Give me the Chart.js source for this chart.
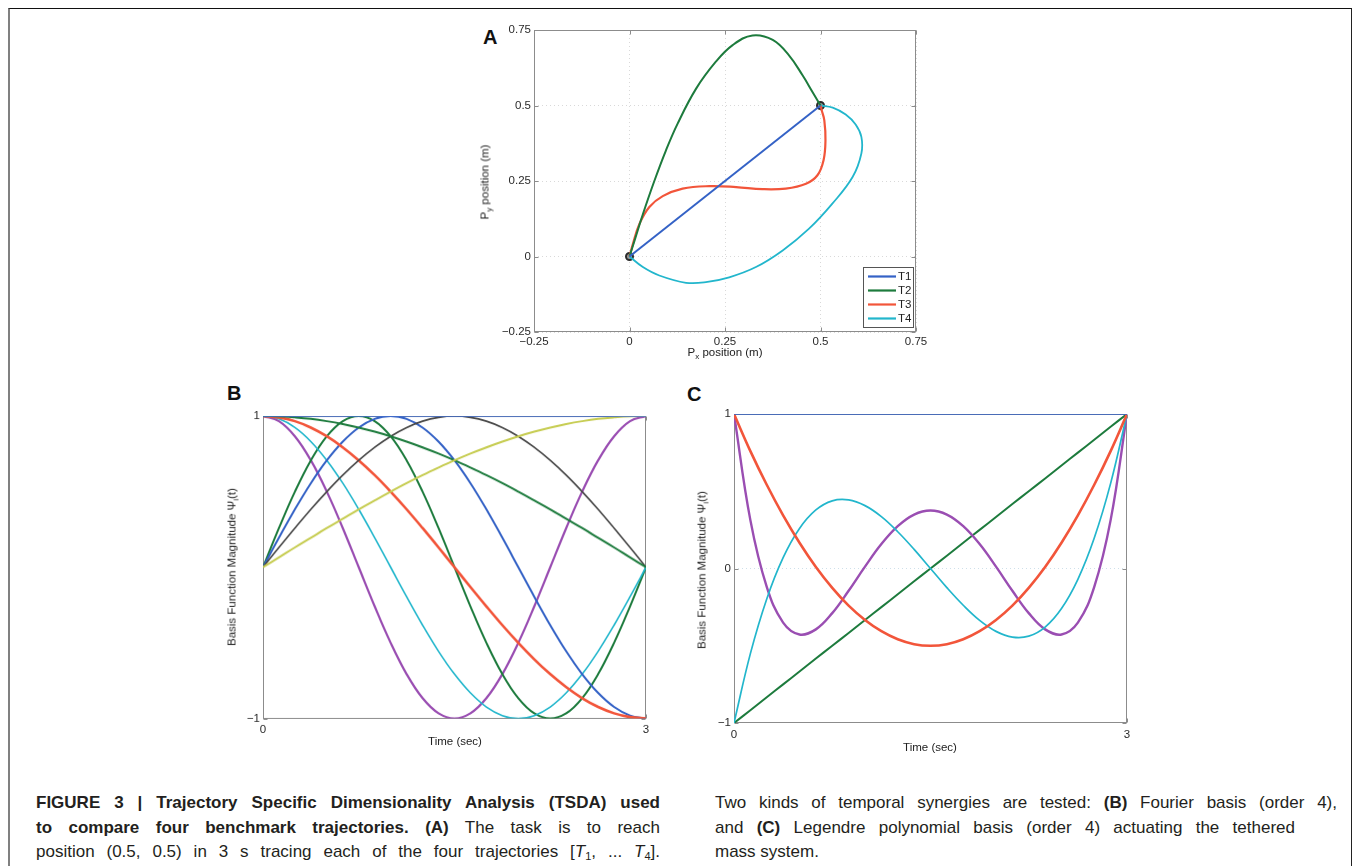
<!DOCTYPE html>
<html><head><meta charset="utf-8">
<script src="https://cdn.jsdelivr.net/npm/chart.js@4.4.0/dist/chart.umd.min.js"></script>
<style>
html,body{margin:0;padding:0;background:#fff;}
body{width:1356px;height:866px;position:relative;overflow:hidden;font-family:"Liberation Sans",Arial,sans-serif;}
.frame{position:absolute;left:8px;top:8px;width:1341px;height:900px;border-top:1.5px solid #111;border-right:1px solid #222;border-left:2px solid #808080;}
.box{position:absolute;}
.lbl{position:absolute;font-weight:bold;font-size:20px;line-height:20px;color:#111;}
.ttl{position:absolute;font-size:11.5px;line-height:13px;color:#222;white-space:nowrap;transform:translate(-50%,-50%);}
.rot{transform:translate(-50%,-50%) rotate(-90deg);}
.ttl sub{font-size:8px;vertical-align:-3px;line-height:0;}
.cap{position:absolute;font-family:"Liberation Sans",Arial,sans-serif;font-size:17px;line-height:24px;color:#231f20;text-align:justify;text-align-last:justify;white-space:normal;}
.cap sub{font-size:11px;vertical-align:-3px;line-height:0;}
</style>
</head><body>
<div class="frame"></div>

<div class="lbl" style="left:483px;top:27px;">A</div>
<div class="lbl" style="left:227px;top:383px;">B</div>
<div class="lbl" style="left:687px;top:384px;">C</div>

<div class="box" id="wa"><canvas id="ca"></canvas></div>
<div class="box" id="wb"><canvas id="cb"></canvas></div>
<div class="box" id="wc"><canvas id="cc"></canvas></div>

<div class="ttl rot" style="left:485px;top:182px;">P<sub>y</sub> position (m)</div>
<div class="ttl" style="left:725px;top:352px;">P<sub>x</sub> position (m)</div>
<div class="ttl rot" style="left:232px;top:567px;">Basis Function Magnitude Ψ<sub>i</sub>(t)</div>
<div class="ttl" style="left:455px;top:741px;">Time (sec)</div>
<div class="ttl rot" style="left:702px;top:570px;">Basis Function Magnitude Ψ<sub>i</sub>(t)</div>
<div class="ttl" style="left:930px;top:747px;">Time (sec)</div>

<div class="cap" style="left:36px;top:791px;width:624px;"><b>FIGURE 3 | Trajectory Specific Dimensionality Analysis (TSDA) used</b></div>
<div class="cap" style="left:36px;top:816px;width:624px;"><b>to compare four benchmark trajectories.</b> <b>(A)</b> The task is to reach</div>
<div class="cap" style="left:36px;top:840px;width:624px;">position (0.5, 0.5) in 3 s tracing each of the four trajectories [<i>T</i><sub>1</sub>, ... <i>T</i><sub>4</sub>].</div>
<div class="cap" style="left:715px;top:791px;width:622px;">Two kinds of temporal synergies are tested: <b>(B)</b> Fourier basis (order 4),</div>
<div class="cap" style="left:715px;top:816px;width:580px;">and <b>(C)</b> Legendre polynomial basis (order 4) actuating the tethered</div>
<div class="cap" style="left:715px;top:840px;text-align:left;text-align-last:left;">mass system.</div>

<script>
// ---------- Panel A data (trajectories, metres) ----------
const aTickVals   = [-0.25, 0, 0.25, 0.5, 0.75];
const aTickLabels = ['\u22120.25', '0', '0.25', '0.5', '0.75'];
const trajLabels  = ['T1', 'T2', 'T3', 'T4'];
const t1x = [0, 0.5];
const t1y = [0, 0.5];
const t2x = [0, 0.015, 0.035, 0.065, 0.095, 0.126, 0.174, 0.226, 0.27, 0.322, 0.375, 0.418, 0.453, 0.479, 0.5];
const t2y = [0, 0.06, 0.14, 0.25, 0.35, 0.44, 0.555, 0.645, 0.7, 0.732, 0.717, 0.665, 0.6, 0.545, 0.5];
const t3x = [0, 0.009, 0.026, 0.052, 0.087, 0.139, 0.209, 0.279, 0.348, 0.409, 0.462, 0.492, 0.508, 0.513, 0.51, 0.503, 0.5];
const t3y = [0, 0.042, 0.108, 0.164, 0.2, 0.225, 0.233, 0.23, 0.223, 0.225, 0.241, 0.269, 0.319, 0.385, 0.451, 0.485, 0.5];
const t4x = [0, 0.035, 0.078, 0.148, 0.2, 0.261, 0.331, 0.401, 0.47, 0.531, 0.584, 0.607, 0.607, 0.592, 0.566, 0.532, 0.5];
const t4y = [0, -0.035, -0.063, -0.087, -0.085, -0.069, -0.035, 0.02, 0.092, 0.175, 0.263, 0.341, 0.396, 0.437, 0.47, 0.493, 0.5];
const endX = [0, 0.5];
const endY = [0, 0.5];

// ---------- Panel B data (Fourier basis, order 4) ----------
const bTime = [0, 0.125, 0.25, 0.375, 0.5, 0.625, 0.75, 0.875, 1, 1.125, 1.25, 1.375, 1.5, 1.625, 1.75, 1.875, 2, 2.125, 2.25, 2.375, 2.5, 2.625, 2.75, 2.875, 3];
const bTickX = [0, 3];
const bTickXLabels = ['0', '3'];
const bTickY = [-1, 1];
const bTickYLabels = ['\u22121', '1'];
const bConst = [1,1,1,1,1,1,1,1,1,1,1,1,1,1,1,1,1,1,1,1,1,1,1,1,1];
const bSinQ = [0,0.065,0.131,0.195,0.259,0.321,0.383,0.442,0.5,0.556,0.609,0.659,0.707,0.752,0.793,0.831,0.866,0.897,0.924,0.947,0.966,0.981,0.991,0.998,1];
const bCosQ = [1,0.998,0.991,0.981,0.966,0.947,0.924,0.897,0.866,0.831,0.793,0.752,0.707,0.659,0.609,0.556,0.5,0.442,0.383,0.321,0.259,0.195,0.131,0.065,0];
const bSinH = [0,0.131,0.259,0.383,0.5,0.609,0.707,0.793,0.866,0.924,0.966,0.991,1,0.991,0.966,0.924,0.866,0.793,0.707,0.609,0.5,0.383,0.259,0.131,0];
const bCosH = [1,0.991,0.966,0.924,0.866,0.793,0.707,0.609,0.5,0.383,0.259,0.131,0,-0.131,-0.259,-0.383,-0.5,-0.609,-0.707,-0.793,-0.866,-0.924,-0.966,-0.991,-1];
const bSin3 = [0,0.195,0.383,0.556,0.707,0.831,0.924,0.981,1,0.981,0.924,0.831,0.707,0.556,0.383,0.195,0,-0.195,-0.383,-0.556,-0.707,-0.831,-0.924,-0.981,-1];
const bCos3 = [1,0.981,0.924,0.831,0.707,0.556,0.383,0.195,0,-0.195,-0.383,-0.556,-0.707,-0.831,-0.924,-0.981,-1,-0.981,-0.924,-0.831,-0.707,-0.556,-0.383,-0.195,0];
const bSin2 = [0,0.259,0.5,0.707,0.866,0.966,1,0.966,0.866,0.707,0.5,0.259,0,-0.259,-0.5,-0.707,-0.866,-0.966,-1,-0.966,-0.866,-0.707,-0.5,-0.259,0];
const bCos2 = [1,0.966,0.866,0.707,0.5,0.259,0,-0.259,-0.5,-0.707,-0.866,-0.966,-1,-0.966,-0.866,-0.707,-0.5,-0.259,0,0.259,0.5,0.707,0.866,0.966,1];

// ---------- Panel C data (Legendre basis, order 4) ----------
const cTime = [0, 0.125, 0.25, 0.375, 0.5, 0.625, 0.75, 0.875, 1, 1.125, 1.25, 1.375, 1.5, 1.625, 1.75, 1.875, 2, 2.125, 2.25, 2.375, 2.5, 2.625, 2.75, 2.875, 3];
const cTickX = [0, 3];
const cTickXLabels = ['0', '3'];
const cTickY = [-1, 0, 1];
const cTickYLabels = ['\u22121', '0', '1'];
const cP0 = [1,1,1,1,1,1,1,1,1,1,1,1,1,1,1,1,1,1,1,1,1,1,1,1,1];
const cP1 = [-1,-0.917,-0.833,-0.75,-0.667,-0.583,-0.5,-0.417,-0.333,-0.25,-0.167,-0.083,0,0.083,0.167,0.25,0.333,0.417,0.5,0.583,0.667,0.75,0.833,0.917,1];
const cP2 = [1,0.76,0.542,0.344,0.167,0.01,-0.125,-0.24,-0.333,-0.406,-0.458,-0.49,-0.5,-0.49,-0.458,-0.406,-0.333,-0.24,-0.125,0.01,0.167,0.344,0.542,0.76,1];
const cP3 = [-1,-0.551,-0.197,0.07,0.259,0.379,0.438,0.444,0.407,0.336,0.238,0.124,0,-0.124,-0.238,-0.336,-0.407,-0.444,-0.438,-0.379,-0.259,-0.07,0.197,0.551,1];
const cP4 = [1,0.313,-0.119,-0.35,-0.427,-0.394,-0.289,-0.144,0.012,0.158,0.274,0.349,0.375,0.349,0.274,0.158,0.012,-0.144,-0.289,-0.394,-0.427,-0.35,-0.119,0.313,1];

// ---------- colours ----------
const COL = {blue:'#3462c6', green:'#1d7b3d', red:'#f2553a', cyan:'#22b6cc', purple:'#9a4eb2', yellow:'#c6cc50', gray:'#474747'};

const pts = (xs, ys) => xs.map((x, i) => ({x: x, y: ys[i]}));
const FONT = {family: '"Liberation Sans", Arial, sans-serif', size: 11.5};

function place(id, area, yw, xh) {
  const padT = 12, padR = 16, padL = 2;
  const el = document.getElementById(id);
  const left = area.l - yw - padL, top = area.t - padT;
  el.style.left = left + 'px'; el.style.top = top + 'px';
  el.style.width = (area.r + padR - left) + 'px';
  el.style.height = (area.b + xh - top) + 'px';
  return {top: padT, right: padR, left: padL, bottom: 0};
}

function axis(min, max, vals, labels, size, pad, grid) {
  return {
    type: 'linear', min: min, max: max,
    afterBuildTicks: s => { s.ticks = vals.map(v => ({value: v})); },
    afterFit: s => { if (s.isHorizontal()) s.height = size; else s.width = size; },
    ticks: {autoSkip: false, maxRotation: 0, padding: pad, color: '#2a2a2a', font: FONT,
            callback: v => labels[vals.indexOf(v)]},
    grid: Object.assign({display: true, drawTicks: false, color: 'transparent', lineWidth: 1}, grid || {}),
    border: {display: false, dash: [1, 3]}
  };
}

// axes box with small inward tick marks (drawn behind the curves)
const framePlugin = {
  id: 'frame',
  beforeDatasetsDraw(chart) {
    const a = chart.chartArea, ctx = chart.ctx;
    const L = Math.round(a.left) + 0.5, T = Math.round(a.top) + 0.5;
    const R = Math.round(a.right) - 0.5, B = Math.round(a.bottom) - 0.5;
    ctx.save();
    ctx.strokeStyle = '#8c8c8c'; ctx.lineWidth = 1;
    ctx.strokeRect(L, T, R - L, B - T);
    const len = 4;
    ctx.beginPath();
    chart.scales.x.ticks.forEach(t => {
      const px = Math.round(chart.scales.x.getPixelForValue(t.value)) + 0.5;
      ctx.moveTo(px, B); ctx.lineTo(px, B - len);
      ctx.moveTo(px, T); ctx.lineTo(px, T + len);
    });
    chart.scales.y.ticks.forEach(t => {
      const py = Math.round(chart.scales.y.getPixelForValue(t.value)) + 0.5;
      ctx.moveTo(L, py); ctx.lineTo(L + len, py);
      ctx.moveTo(R, py); ctx.lineTo(R - len, py);
    });
    ctx.stroke();
    ctx.restore();
  }
};

const legendPlugin = {
  id: 'inlegend',
  afterDatasetsDraw(chart) {
    const a = chart.chartArea, ctx = chart.ctx;
    const w = 50, h = 60, x = a.right - 3 - w, y = a.bottom - 5 - h;
    ctx.save();
    ctx.fillStyle = '#fff'; ctx.fillRect(x, y, w, h);
    ctx.strokeStyle = '#555'; ctx.lineWidth = 1; ctx.strokeRect(Math.round(x) + 0.5, Math.round(y) + 0.5, w, h);
    ctx.font = '11.5px "Liberation Sans", Arial, sans-serif';
    ctx.textBaseline = 'middle'; ctx.fillStyle = '#222';
    chart.data.datasets.forEach((ds, i) => {
      if (!trajLabels.includes(ds.label)) return;
      const yy = y + 9.5 + i * 14;
      ctx.strokeStyle = ds.borderColor; ctx.lineWidth = 2.2;
      ctx.beginPath(); ctx.moveTo(x + 5, yy); ctx.lineTo(x + 33, yy); ctx.stroke();
      ctx.fillText(ds.label, x + 35, yy + 0.5);
    });
    ctx.restore();
  }
};

Chart.defaults.animation = false;
Chart.defaults.font.family = FONT.family;

// ---------- Panel A ----------
const areaA = {l: 534, r: 916, t: 30, b: 332};
const padA = place('wa', areaA, 60, 36);
const gridA = {color: '#d9d9d9', lineWidth: 1};
new Chart(document.getElementById('ca'), {
  type: 'scatter',
  data: {datasets: [
    {label: trajLabels[0], data: pts(t1x, t1y), borderColor: COL.blue, borderWidth: 2, showLine: true, tension: 0, pointRadius: 0},
    {label: trajLabels[1], data: pts(t2x, t2y), borderColor: COL.green, borderWidth: 2, showLine: true, tension: 0.4, pointRadius: 0},
    {label: trajLabels[2], data: pts(t3x, t3y), borderColor: COL.red, borderWidth: 2.2, showLine: true, tension: 0.4, pointRadius: 0},
    {label: trajLabels[3], data: pts(t4x, t4y), borderColor: COL.cyan, borderWidth: 1.8, showLine: true, tension: 0.4, pointRadius: 0},
    {label: 'endpoints', data: pts(endX, endY), showLine: false, pointRadius: 3.5, pointBorderWidth: 2, pointBorderColor: '#2b2b2b', pointBackgroundColor: '#9a9a9a'}
  ]},
  options: {
    responsive: true, maintainAspectRatio: false,
    layout: {padding: padA},
    plugins: {legend: {display: false}, tooltip: {enabled: false}},
    scales: {
      x: axis(-0.25, 0.75, aTickVals, aTickLabels, 36, 3, gridA),
      y: axis(-0.25, 0.75, aTickVals, aTickLabels, 60, 3, gridA)
    }
  },
  plugins: [framePlugin, legendPlugin]
});

// ---------- Panel B ----------
const areaB = {l: 263, r: 646, t: 416, b: 717.5};
const padB = place('wb', areaB, 50, 30);
const lineB = (d, c, w) => ({data: pts(bTime, d), borderColor: c, borderWidth: w, pointRadius: 0, tension: 0.4});
new Chart(document.getElementById('cb'), {
  type: 'line',
  data: {datasets: [
    lineB(bConst, COL.blue, 1.6),
    lineB(bSinQ, COL.yellow, 2),
    lineB(bCosQ, COL.green, 2),
    lineB(bSinH, COL.gray, 1.6),
    lineB(bCosH, COL.red, 2.6),
    lineB(bSin3, COL.blue, 2),
    lineB(bCos3, COL.cyan, 1.6),
    lineB(bSin2, COL.green, 2),
    lineB(bCos2, COL.purple, 2.2)
  ]},
  options: {
    responsive: true, maintainAspectRatio: false,
    layout: {padding: padB},
    plugins: {legend: {display: false}, tooltip: {enabled: false}},
    scales: {
      x: axis(0, 3, bTickX, bTickXLabels, 30, 4, null),
      y: axis(-1, 1, bTickY, bTickYLabels, 50, 3, null)
    }
  },
  plugins: [framePlugin]
});

// ---------- Panel C ----------
const areaC = {l: 734, r: 1127, t: 414, b: 723};
const padC = place('wc', areaC, 50, 30);
const lineC = (d, c, w) => ({data: pts(cTime, d), borderColor: c, borderWidth: w, pointRadius: 0, tension: 0.4});
new Chart(document.getElementById('cc'), {
  type: 'line',
  data: {datasets: [
    lineC(cP0, COL.blue, 1.6),
    lineC(cP2, COL.red, 2.6),
    lineC(cP3, COL.cyan, 1.7),
    lineC(cP4, COL.purple, 2.4),
    lineC(cP1, COL.green, 2)
  ]},
  options: {
    responsive: true, maintainAspectRatio: false,
    layout: {padding: padC},
    plugins: {legend: {display: false}, tooltip: {enabled: false}},
    scales: {
      x: axis(0, 3, cTickX, cTickXLabels, 30, 4.5, null),
      y: axis(-1, 1, cTickY, cTickYLabels, 50, 3, {color: c => c.tick && c.tick.value === 0 ? '#cfe0ea' : 'transparent'})
    }
  },
  plugins: [framePlugin]
});
</script>
</body></html>
